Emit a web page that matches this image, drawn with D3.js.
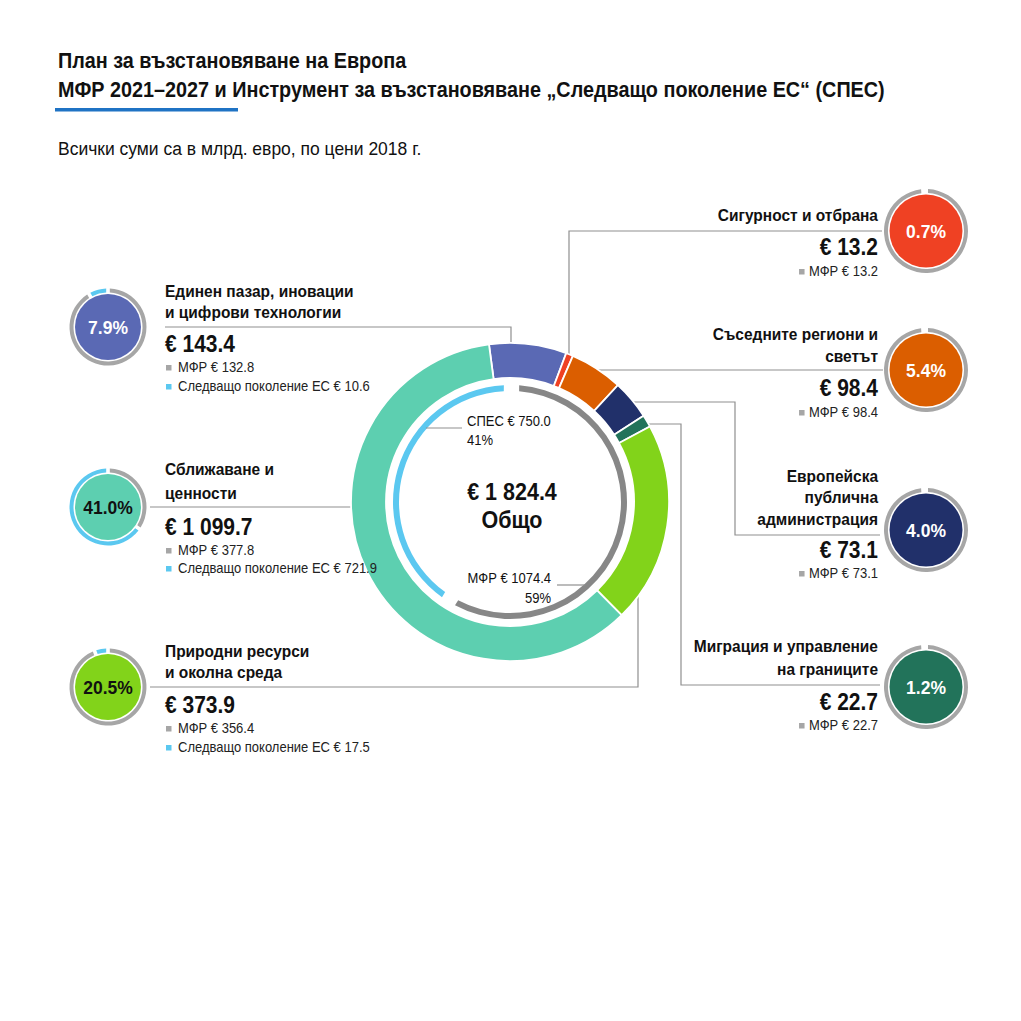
<!DOCTYPE html>
<html><head><meta charset="utf-8">
<script src="https://cdn.jsdelivr.net/npm/d3@7"></script>
<style>
body{margin:0;background:#fff}
svg{display:block}
text{font-family:"Liberation Sans",Arial,sans-serif}
</style>
</head><body>
<svg id="c" width="1021" height="1021"></svg>
<script>
// ---------- DATA ----------
const titleLines = ["План за възстановяване на Европа",
  "МФР 2021–2027 и Инструмент за възстановяване „Следващо поколение ЕС“ (СПЕС)"];
const subtitle = "Всички суми са в млрд. евро, по цени 2018 г.";
const categoryNames = [
  ["Единен пазар, иновации", "и цифрови технологии"],
  ["Сигурност и отбрана"],
  ["Съседните региони и", "светът"],
  ["Европейска", "публична", "администрация"],
  ["Миграция и управление", "на границите"],
  ["Природни ресурси", "и околна среда"],
  ["Сближаване и", "ценности"]
];
const totals     = [143.4, 13.2, 98.4, 73.1, 22.7, 373.9, 1099.7];
const mfrValues  = [132.8, 13.2, 98.4, 73.1, 22.7, 356.4, 377.8];
const ngeuValues = [10.6, 0, 0, 0, 0, 17.5, 721.9];
const shareLabels = ["7.9%", "0.7%", "5.4%", "4.0%", "1.2%", "20.5%", "41.0%"];
const fundNames  = ["МФР", "СПЕС"];
const fundValues = [1074.4, 750.0];
const fundShares = ["59%", "41%"];
const grandTotal = 1824.4;
const totalLabel = "Общо";
const legendNames = ["МФР", "Следващо поколение ЕС"];

// ---------- STYLE / LAYOUT ----------
const categoryColors = ["#5a69b4", "#ef4123", "#db5e00", "#21306a", "#22735a", "#82d31a", "#5dcfb0"];
const pctTextColors  = ["#fff", "#fff", "#fff", "#fff", "#fff", "#111", "#111"];
const fundColors = ["#878787", "#5bc8f0"];
const legendColors = ["#a6a6a6", "#5bc8f0"];
const S = 1.1; // vertical stretch of the text
const CX = 510, CY = 502, R_OUT = 159, R_IN = 124;
const startDeg = -7.6;
const rad = d => d * Math.PI / 180;

// edge helpers (outer edge of donut)
const edgeY = (x, top) => CY + (top ? -1 : 1) * Math.sqrt(R_OUT * R_OUT - (x - CX) ** 2);
const edgeX = (y, right) => CX + (right ? 1 : -1) * Math.sqrt(R_OUT * R_OUT - (y - CY) ** 2);

const layout = [
  {side: "L", cx: 108, cy: 327, tx: 165, titleY: [297, 318], valueY: 352, legY: [372, 391],
   leader: [[165, 327], [511, 327], [511, edgeY(511, true) + 2]]},
  {side: "R", cx: 926, cy: 231, tx: 878, titleY: [221], valueY: 255, legY: [276],
   leader: [[882, 231], [569, 231], [569, edgeY(569, true) + 2]]},
  {side: "R", cx: 926, cy: 370, tx: 878, titleY: [340, 362], valueY: 396, legY: [417],
   leader: [[883, 370], [edgeX(370, true) - 2, 370]]},
  {side: "R", cx: 926, cy: 530, tx: 878, titleY: [482, 503, 525], valueY: 558, legY: [578],
   leader: [[880, 535], [735, 535], [735, 402], [edgeX(402, true) - 2, 402]]},
  {side: "R", cx: 926, cy: 687, tx: 878, titleY: [652, 675], valueY: 710, legY: [730],
   leader: [[880, 685], [681, 685], [681, 424], [edgeX(424, true) - 2, 424]]},
  {side: "L", cx: 108, cy: 687, tx: 165, titleY: [657, 678], valueY: 713, legY: [733, 752],
   leader: [[150, 687], [638, 687], [638, edgeY(638, false) - 2]]},
  {side: "L", cx: 108, cy: 507, tx: 165, titleY: [475, 499], valueY: 535, legY: [555, 573],
   leader: [[150, 507], [edgeX(507, false) + 2, 507]]}
];

const loc = d3.formatLocale({decimal: ".", thousands: " ", grouping: [3], currency: ["€ ", ""]});
const fmtTh = loc.format(",.1f");
const fmt1 = d3.format(".1f");

const svg = d3.select("#c");

function txt(g, x, y, str, size, weight, anchor, fill) {
  return g.append("text")
    .attr("transform", `translate(${x},${y}) scale(1,${S})`)
    .attr("text-anchor", anchor || "start")
    .style("font-size", size + "px")
    .style("font-weight", weight || "normal")
    .attr("fill", fill || "#111")
    .text(str);
}

// ---------- TITLE ----------
txt(svg, 58, 68, titleLines[0], 19.8, "bold");
txt(svg, 58, 97, titleLines[1], 19.8, "bold");
svg.append("rect").attr("x", 55).attr("y", 108).attr("width", 183).attr("height", 3.5).attr("fill", "#1f73c4");
txt(svg, 58, 155, subtitle, 17.5, "normal");

// ---------- LEADER LINES ----------
const lineGen = d3.line();
svg.append("g").selectAll("path").data(layout).join("path")
  .attr("d", d => lineGen(d.leader))
  .attr("fill", "none").attr("stroke", "#8f8f8f").attr("stroke-width", 1.2);

// ---------- MAIN DONUT ----------
const pie = d3.pie().sort(null).value(d => d)
  .startAngle(rad(startDeg)).endAngle(rad(startDeg) + 2 * Math.PI);
const arcMain = d3.arc().innerRadius(R_IN).outerRadius(R_OUT);
const gMain = svg.append("g").attr("transform", `translate(${CX},${CY})`);
gMain.selectAll("path").data(pie(totals)).join("path")
  .attr("d", arcMain)
  .attr("fill", (d, i) => categoryColors[i])
  .attr("stroke", "#fff").attr("stroke-width", 1.8);

// inner fund ring
const fundPie = d3.pie().sort(null).value(d => d)
  .startAngle(rad(0.75)).endAngle(rad(0.75) + 2 * Math.PI).padAngle(0.095);
const arcFund = d3.arc().innerRadius(111).outerRadius(117);
gMain.append("g").selectAll("path").data(fundPie(fundValues)).join("path")
  .attr("d", arcFund)
  .attr("fill", (d, i) => fundColors[i]);

// fund labels
svg.append("path").attr("d", lineGen([[CX - Math.sqrt(112 * 112 - (428 - CY) ** 2), 428], [462, 428]]))
  .attr("stroke", "#8f8f8f").attr("stroke-width", 1.2).attr("fill", "none");
txt(svg, 467, 426, `${fundNames[1]} € ${fmt1(fundValues[1])}`, 13, "normal");
txt(svg, 467, 445, fundShares[1], 13, "normal");
svg.append("path").attr("d", lineGen([[557, 585], [CX + Math.sqrt(112 * 112 - (585 - CY) ** 2), 585]]))
  .attr("stroke", "#8f8f8f").attr("stroke-width", 1.2).attr("fill", "none");
txt(svg, 551, 583, `${fundNames[0]} € ${fmt1(fundValues[0])}`, 13, "normal", "end");
txt(svg, 551, 603, fundShares[0], 13, "normal", "end");

// centre total
txt(svg, 512, 500, "€ " + fmtTh(grandTotal), 21.5, "bold", "middle");
txt(svg, 512, 528, totalLabel, 21.5, "bold", "middle");

// ---------- CATEGORY BLOCKS ----------
const ringPie = d3.pie().sort(null).value(d => d).startAngle(0).endAngle(2 * Math.PI - 1e-4).padAngle(0.07);

layout.forEach((L, i) => {
  const g = svg.append("g");
  const rOuter = L.side === "L" ? 38.5 : 42;
  const rInner = rOuter - 4;
  const rFill = rInner - 1.5;
  const vals = [mfrValues[i], ngeuValues[i]];
  const ring = ringPie(vals).filter(d => d.value > 0);
  const gc = g.append("g").attr("transform", `translate(${L.cx},${L.cy})`);
  gc.selectAll("path").data(ring).join("path")
    .attr("d", d3.arc().innerRadius(rInner).outerRadius(rOuter))
    .attr("fill", d => d.index === 0 ? legendColors[0] : legendColors[1]);
  gc.append("circle").attr("r", rFill).attr("fill", categoryColors[i]);
  txt(g, L.cx, L.cy + 7, shareLabels[i], 17.5, "bold", "middle", pctTextColors[i]);

  const anchor = L.side === "L" ? "start" : "end";
  categoryNames[i].forEach((line, k) => txt(g, L.tx, L.titleY[k], line, 15.5, "bold", anchor));
  txt(g, L.tx, L.valueY, "€ " + fmtTh(totals[i]), 21, "bold", anchor);

  const legItems = [];
  if (mfrValues[i] > 0) legItems.push({name: legendNames[0], v: mfrValues[i], c: legendColors[0]});
  if (ngeuValues[i] > 0) legItems.push({name: legendNames[1], v: ngeuValues[i], c: legendColors[1]});
  legItems.forEach((it, k) => {
    const y = L.legY[k];
    const label = `${it.name} € ${fmt1(it.v)}`;
    if (L.side === "L") {
      g.append("rect").attr("x", 166).attr("y", y - 7).attr("width", 5.5).attr("height", 5.5).attr("fill", it.c);
      txt(g, 178, y, label, 13, "normal", "start", "#222");
    } else {
      const t = txt(g, L.tx, y, label, 13, "normal", "end", "#222");
      const w = t.node().getComputedTextLength();
      g.append("rect").attr("x", L.tx - w - 10).attr("y", y - 7).attr("width", 5.5).attr("height", 5.5).attr("fill", it.c);
    }
  });
});
</script>
</body></html>
